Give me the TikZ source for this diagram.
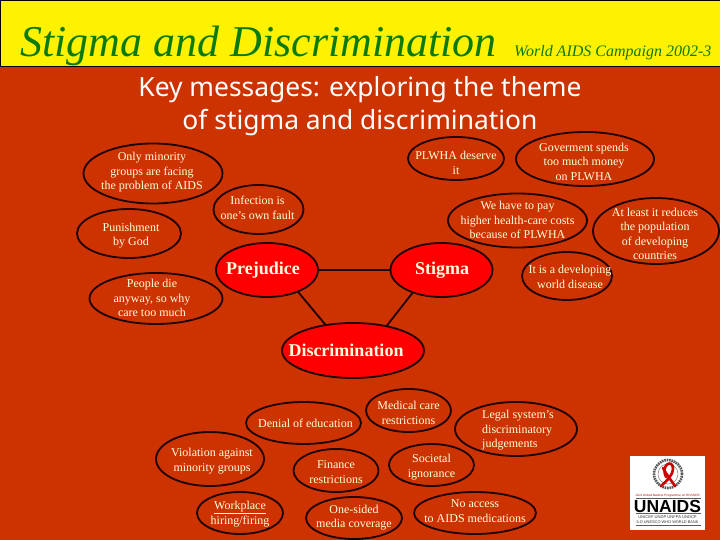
\documentclass[tikz,border=0pt]{standalone}
\usepackage{fontspec}
\setmainfont{Liberation Serif}
\newfontfamily\keyfont{Noto Sans}
\newfontfamily\logofont{Liberation Sans}
\usetikzlibrary{shapes.geometric}
\definecolor{bgred}{HTML}{CC3300}
\definecolor{ringc}{HTML}{1E0000}
\definecolor{creamc}{HTML}{FFFFE0}
\definecolor{titleg}{HTML}{0A7A0A}
\newcommand{\tx}[4][c]{\smash{\makebox[0pt][c]{\hspace*{#2pt}\raisebox{#3pt}{\fontsize{12}{14.5}\selectfont\begin{tabular}[c]{@{}#1@{}}#4\end{tabular}}\hspace*{-#2pt}}}}
\tikzset{x=1pt,y=-1pt,
 ell/.style={ellipse,draw=ringc,line width=1.8pt,inner sep=0pt,outer sep=0pt,text=creamc},
 hub/.style={ell,fill=red},
 hubtext/.style={font=\bfseries\fontsize{18}{20}\selectfont,text=creamc},
 link/.style={draw=ringc,line width=1.8pt},
 logorule/.style={draw=black!65,line width=0.5pt}}
\newcommand{\E}[7][ell]{\node[#1,minimum width=#5*2pt,minimum height=#6*2pt] (#2) at (#3,#4) {#7};}
\begin{document}
\begin{tikzpicture}
\useasboundingbox (0,0) rectangle (720,540);
\fill[bgred] (0,0) rectangle (720,540);
\node[draw=black,fill=yellow,line width=0.8pt,minimum width=719.2pt,minimum height=65.5pt,inner sep=0pt,anchor=north west] (band) at (0.4,0.4) {};
\node[anchor=base west,inner sep=0pt,text=titleg,font=\itshape\fontsize{44}{48}\selectfont] (title) at (20,57) {Stigma and Discrimination};
\node[anchor=base west,inner sep=0pt,text=titleg,font=\itshape\fontsize{16}{18}\selectfont] (camp) at (514,57) {World AIDS Campaign 2002-3};
\node[anchor=base,inner sep=0pt,text=white,font=\keyfont\fontsize{26.4}{30}\selectfont] (key1) at (360,97) {Key messages: exploring the theme};
\node[anchor=base,inner sep=0pt,text=white,font=\keyfont\fontsize{26.4}{30}\selectfont] (key2) at (360,130) {of stigma and discrimination};

\E{only}{153}{173.5}{69.5}{30}{\tx{-1}{-2}{Only minority\\groups are facing\\the problem of AIDS}}
\E{infect}{258.5}{209.5}{45}{24.5}{\tx{-1}{-2.5}{Infection is\\one’s own fault}}
\E{punish}{129}{233.5}{52}{24.5}{\tx{2}{-5}{Punishment\\by God}}
\E{people}{156}{298.5}{66.5}{25.5}{\tx{-4}{-4}{People die\\anyway, so why\\care too much}}
\E{plwha}{456}{158.5}{48}{21.5}{\tx{0}{-8.5}{PLWHA deserve\\it}}
\E{govt}{585}{159}{69}{27}{\tx{-1}{-7}{Goverment spends\\too much money\\on PLWHA}}
\E{pay}{517.5}{220.5}{69.5}{27}{\tx{0}{-4}{We have to pay\\higher health-care costs\\because of PLWHA}}
\E{least}{656}{231}{63}{33}{\tx{-1}{-7}{At least it reduces\\the population\\of developing\\countries}}
\E{devel}{567}{276}{45}{24}{\tx{3}{-5}{It is a developing\\world disease}}
\E{denial}{303.5}{423}{57.5}{21}{\tx{2}{-5}{Denial of education}}
\E{medical}{408.5}{410.5}{42.5}{21.5}{\tx{0}{-6.5}{Medical care\\restrictions}}
\E{legal}{516}{429}{61}{27}{\tx[l]{2}{-4.5}{Legal system’s\\discriminatory\\judgements}}
\E{violate}{210}{459}{54}{27}{\tx{2}{-5}{Violation against\\minority groups}}
\E{finance}{336}{470.5}{42.5}{21.5}{\tx{0}{-5.5}{Finance\\restrictions}}
\E{society}{431.5}{465}{42.5}{21}{\tx{0}{-5}{Societal\\ignorance}}
\E{work}{240}{513}{43}{21}{\tx{0}{-4}{\underline{Workplace}\\hiring/firing}}
\E{media}{354}{518}{48}{21}{\tx{0}{-2.5}{One-sided\\media coverage}}
\E{noaccess}{475}{513}{61}{21}{\tx{0}{-2}{No access\\to AIDS medications}}

\E[hub]{prej}{267}{270}{51}{27}{}
\E[hub]{stig}{441.5}{270}{51}{27}{}
\E[hub]{disc}{353}{350.5}{71}{27.5}{}
\node[hubtext,inner sep=0pt] (prejt) at (263,270) {Prejudice};
\node[hubtext,inner sep=0pt] (stigt) at (442,270) {Stigma};
\node[hubtext,inner sep=0pt] (disct) at (346,350.5) {Discrimination};
\draw[link] (prej) -- (stig);
\draw[link] (prej.-35) -- (disc.137);
\draw[link] (stig.218) -- (disc.36);

% logo
\node[fill=white,minimum width=75pt,minimum height=74pt,inner sep=0pt] (logo) at (667.5,493) {};
\node[circle,draw=black!65,line width=2.6pt,dash pattern=on 1.6pt off 0.8pt,minimum size=28pt,inner sep=0pt] (wreath) at (668,474) {};
\node[circle,draw=black!50,line width=0.5pt,minimum size=20pt,inner sep=0pt] (globe) at (668,474) {};
\draw[red!80!black,line width=2.6pt,line cap=round] (666,477) .. controls (660,465) and (673,458) .. (673,469) .. controls (673,474) and (668,480) .. (661,486);
\draw[red!80!black,line width=2.6pt,line cap=round] (663,468) .. controls (666,474) and (671,480) .. (675,486);
\node[inner sep=0pt,text=red!70!black,font=\logofont\fontsize{3.15}{4}\selectfont] (joint) at (667.5,495.5) {Joint United Nations Programme on HIV/AIDS};
\node[inner sep=0pt,text=black,font=\logofont\bfseries\fontsize{17.5}{18}\selectfont] (unaids) at (667.5,506.5) {UNAIDS};
\node[inner sep=0pt,text=black!80,font=\logofont\fontsize{4.1}{5}\selectfont] (spons) at (667.5,517) {UNICEF UNDP UNFPA UNDCP};
\node[inner sep=0pt,text=black!80,font=\logofont\fontsize{3.9}{5}\selectfont] (spons2) at (667.5,522.5) {ILO UNESCO WHO WORLD BANK};
\coordinate (r1a) at (636,498.5); \coordinate (r1b) at (701,498.5);
\coordinate (r2a) at (636,513.5); \coordinate (r2b) at (701,513.5);
\coordinate (r3a) at (636,525.5); \coordinate (r3b) at (701,525.5);
\draw[logorule] (r1a) -- (r1b);
\draw[logorule] (r2a) -- (r2b);
\draw[logorule] (r3a) -- (r3b);
\end{tikzpicture}
\end{document}
